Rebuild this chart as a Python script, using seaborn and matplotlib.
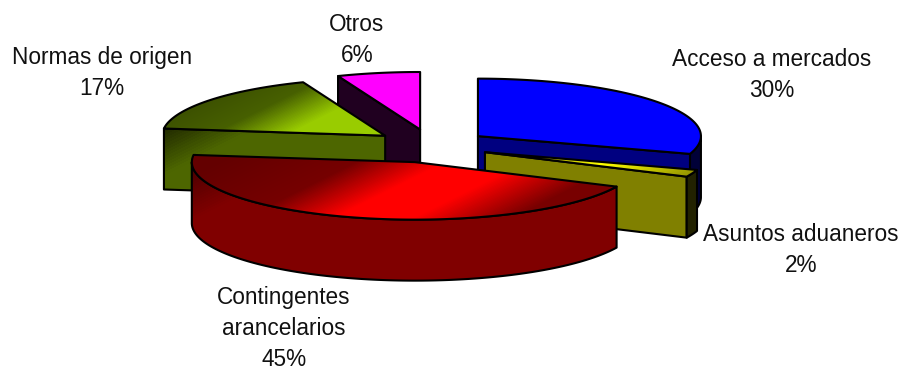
import numpy as np
import pandas as pd
import seaborn as sns
import matplotlib
matplotlib.use("Agg")
import matplotlib.pyplot as plt
from matplotlib.patches import Polygon
from matplotlib.colors import LinearSegmentedColormap

# ---- data ----
categories = ["Acceso a mercados", "Asuntos aduaneros", "Contingentes\narancelarios",
              "Normas de origen", "Otros"]
shares = [30, 2, 45, 17, 6]
labels_xy = [(772, 75), (801, 250), (284, 328.5), (102, 73), (357, 40)]

# ---- palette: top, cut face, outer side ----
top_stops = [
    [(0, (0, 0, 255)), (1000, (0, 0, 255))],
    [(400, (90, 90, 0)), (465, (255, 255, 0)), (530, (128, 128, 0))],
    [(270, (100, 0, 0)), (340, (118, 0, 0)), (385, (255, 0, 0)), (425, (255, 0, 0)), (475, (120, 0, 0))],
    [(200, (60, 80, 0)), (240, (71, 96, 0)), (278, (153, 204, 0)), (400, (153, 204, 0))],
    [(0, (255, 0, 255)), (1000, (255, 0, 255))],
]
cut_stops = [
    [(0, (0, 0, 128)), (1000, (0, 0, 128))],
    [(0, (128, 128, 0)), (1000, (128, 128, 0))],
    [(0, (128, 0, 0)), (1000, (128, 0, 0))],
    [(205, (28, 36, 0)), (255, (77, 102, 0)), (1000, (77, 102, 0))],
    [(0, (32, 0, 32)), (1000, (32, 0, 32))],
]
side_stops = [
    [(0, (0, 0, 56)), (1000, (0, 0, 56))],
    [(0, (34, 34, 0)), (1000, (34, 34, 0))],
    [(255, (70, 0, 0)), (315, (128, 0, 0)), (1000, (128, 0, 0))],
    [(0, (77, 102, 0)), (1000, (77, 102, 0))],
    [(0, (32, 0, 32)), (1000, (32, 0, 32))],
]
draw_order = [4, 3, 0, 1, 2]

# ---- pie geometry (pixels) ----
RX, RY, DEPTH = 223.0, 57.5, 61.0
CX, CY = 431.0, 146.0
EX, EY = 58.0, 16.8

sns.set_theme(style="white")
plt.rcParams["font.family"] = ["Liberation Sans", "DejaVu Sans"]

df = pd.DataFrame({"category": categories, "share": shares})
df["end"] = df["share"].cumsum() / df["share"].sum() * 360.0
df["start"] = df["end"] - df["share"] / df["share"].sum() * 360.0

fig, ax = plt.subplots(figsize=(9.02, 3.68), dpi=100)
fig.subplots_adjust(0, 0, 1, 1)
W, H = 902, 368
xx, yy = np.meshgrid(np.arange(W) + 0.5, np.arange(H) + 0.5)
tt = xx * 0.5 + yy


def fill(points, stops, z):
    lo, hi = stops[0][0], stops[-1][0]
    cmap = LinearSegmentedColormap.from_list(
        "g", [((t - lo) / (hi - lo), tuple(c / 255 for c in col)) for t, col in stops])
    im = ax.imshow((tt - lo) / (hi - lo), cmap=cmap, vmin=0, vmax=1, extent=(0, W, H, 0),
                   aspect="auto", zorder=z, interpolation="bilinear")
    patch = Polygon(points, closed=True, fc="none", ec="black", lw=1.5, zorder=z + 0.5,
                    joinstyle="round")
    ax.add_patch(patch)
    im.set_clip_path(patch)


def rim(cx, cy, a, b):
    th = np.radians(np.linspace(a, b, max(int(abs(b - a)) * 2, 2)))
    return np.column_stack([cx + RX * np.sin(th), cy - RY * np.cos(th)])


z = 1
for i in draw_order:
    s, e = df.loc[i, "start"], df.loc[i, "end"]
    mid = np.radians((s + e) / 2)
    cx, cy = CX + EX * np.sin(mid), CY - EY * np.cos(mid)
    apex = np.array([[cx, cy]])
    down = np.array([0, DEPTH])
    # straight cut faces turned to the viewer
    for ang, show in ((s, s > 180), (e, e < 180)):
        if show:
            p = rim(cx, cy, ang, ang)[:1]
            fill(np.vstack([apex, p, p + down, apex + down]), cut_stops[i], z)
            z += 1
    # curved outer wall (front half only)
    a, b = max(s, 90), min(e, 270)
    if b > a:
        arc = rim(cx, cy, a, b)
        fill(np.vstack([arc, arc[::-1] + down]), side_stops[i], z)
        z += 1
    # top face
    fill(np.vstack([apex, rim(cx, cy, s, e)]), top_stops[i], z)
    z += 1

for cat, val, (x, y) in zip(categories, shares, labels_xy):
    ax.text(x, y, f"{cat}\n{val}%", ha="center", va="center", fontsize=16.3, color="#111111",
            linespacing=1.42, zorder=100)

ax.set_xlim(0, W)
ax.set_ylim(H, 0)
ax.axis("off")
fig.savefig("out.png", dpi=100, facecolor="white")
